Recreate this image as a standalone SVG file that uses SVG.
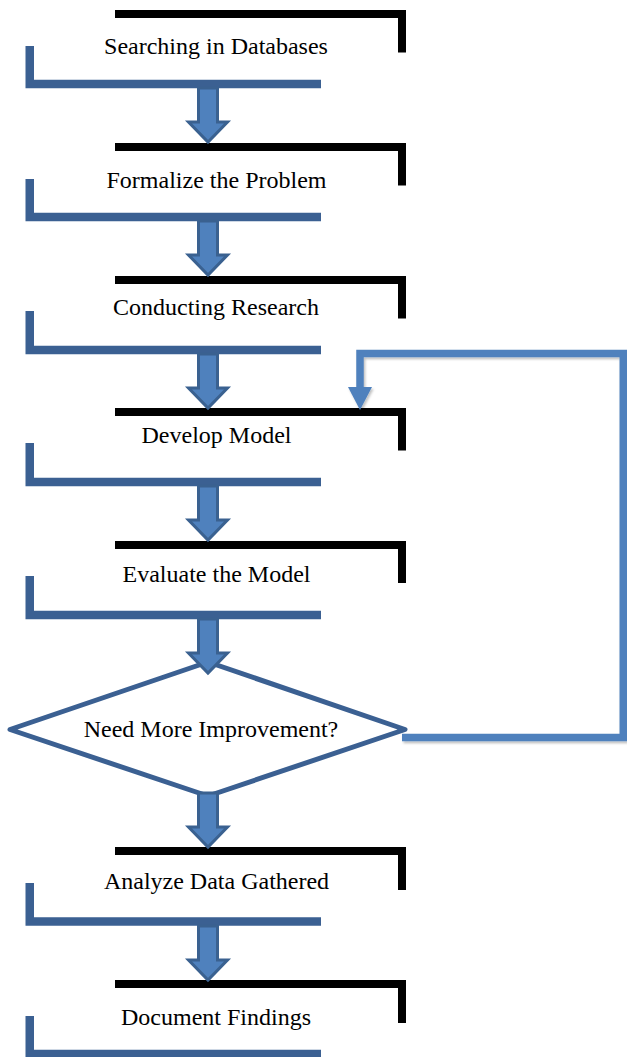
<svg xmlns="http://www.w3.org/2000/svg" width="627" height="1057" viewBox="0 0 627 1057">
  <style>
    .bar { fill: none; stroke: #000000; stroke-width: 8; stroke-linejoin: miter; stroke-linecap: butt; }
    .bracket { fill: none; stroke: #3B6092; stroke-width: 8.5; stroke-linejoin: miter; stroke-linecap: butt; }
    .label { font-family: "Liberation Serif", "Times New Roman", serif; font-size: 24px; fill: #000000; text-anchor: middle; }
    .decision { fill: #FFFFFF; stroke: #3B6092; stroke-width: 5; stroke-linejoin: round; }
    .flow { fill: #4F81BD; stroke: #3A6190; stroke-width: 3; stroke-linejoin: miter; }
    .loop { fill: none; stroke: #4F81BD; stroke-width: 7.5; stroke-linejoin: miter; stroke-linecap: butt; }
    .loophead { fill: #4F81BD; }
  </style>
  <defs>
    <!-- block arrow: shaft top-centre at the origin, pointing down -->
    <path id="blockArrow" class="flow" d="M -9.5 0 H 9.5 V 34 H 19.5 L 0 54 L -19.5 34 H -9.5 Z"/>
    <filter id="softShadow" x="-5%" y="-5%" width="110%" height="110%">
      <feDropShadow dx="1.5" dy="2" stdDeviation="1" flood-color="#000000" flood-opacity="0.25"/>
    </filter>
  </defs>

  <g id="step-searching">
    <polyline class="bar" points="115,14 402,14 402,52.5"/>
    <polyline class="bracket" points="29.75,46 29.75,84 321,84"/>
    <text class="label" x="216" y="54">Searching in Databases</text>
  </g>

  <g id="step-formalize">
    <polyline class="bar" points="115,147 402,147 402,185.5"/>
    <polyline class="bracket" points="29.75,179 29.75,217 321,217"/>
    <text class="label" x="216.5" y="188">Formalize the Problem</text>
  </g>

  <g id="step-research">
    <polyline class="bar" points="115,280 402,280 402,318.5"/>
    <polyline class="bracket" points="29.75,311 29.75,350 321,350"/>
    <text class="label" x="216" y="315">Conducting Research</text>
  </g>

  <g id="step-develop">
    <polyline class="bar" points="115,412 402,412 402,450.5"/>
    <polyline class="bracket" points="29.75,443 29.75,482 321,482"/>
    <text class="label" x="216.5" y="442.5">Develop Model</text>
  </g>

  <g id="step-evaluate">
    <polyline class="bar" points="115,545 402,545 402,583"/>
    <polyline class="bracket" points="29.75,576 29.75,615 321,615"/>
    <text class="label" x="216.5" y="582">Evaluate the Model</text>
  </g>

  <g id="decision-improve">
    <polygon class="decision" points="208,662 405,729.5 208,796 10,729.5"/>
    <text class="label" x="211" y="737">Need More Improvement?</text>
  </g>

  <g id="step-analyze">
    <polyline class="bar" points="115,851 402,851 402,890"/>
    <polyline class="bracket" points="29.75,883 29.75,921.5 321,921.5"/>
    <text class="label" x="216.5" y="889">Analyze Data Gathered</text>
  </g>

  <g id="step-document">
    <polyline class="bar" points="115,984 402,984 402,1023"/>
    <polyline class="bracket" points="29.75,1016 29.75,1054 321,1054"/>
    <text class="label" x="216" y="1025">Document Findings</text>
  </g>

  <g id="connectors">
    <use href="#blockArrow" x="208" y="88"/>
    <use href="#blockArrow" x="208" y="221"/>
    <use href="#blockArrow" x="208" y="354"/>
    <use href="#blockArrow" x="208" y="486"/>
    <use href="#blockArrow" x="208" y="619"/>
    <use href="#blockArrow" x="208" y="793"/>
    <use href="#blockArrow" x="208" y="926"/>
    <!-- "yes" branch loops back to Develop Model -->
    <g filter="url(#softShadow)">
      <polyline class="loop" points="402,737.5 623.25,737.5 623.25,353.5 360,353.5 360,389"/>
      <polygon class="loophead" points="348,387 372,387 360,410"/>
    </g>
  </g>
</svg>
